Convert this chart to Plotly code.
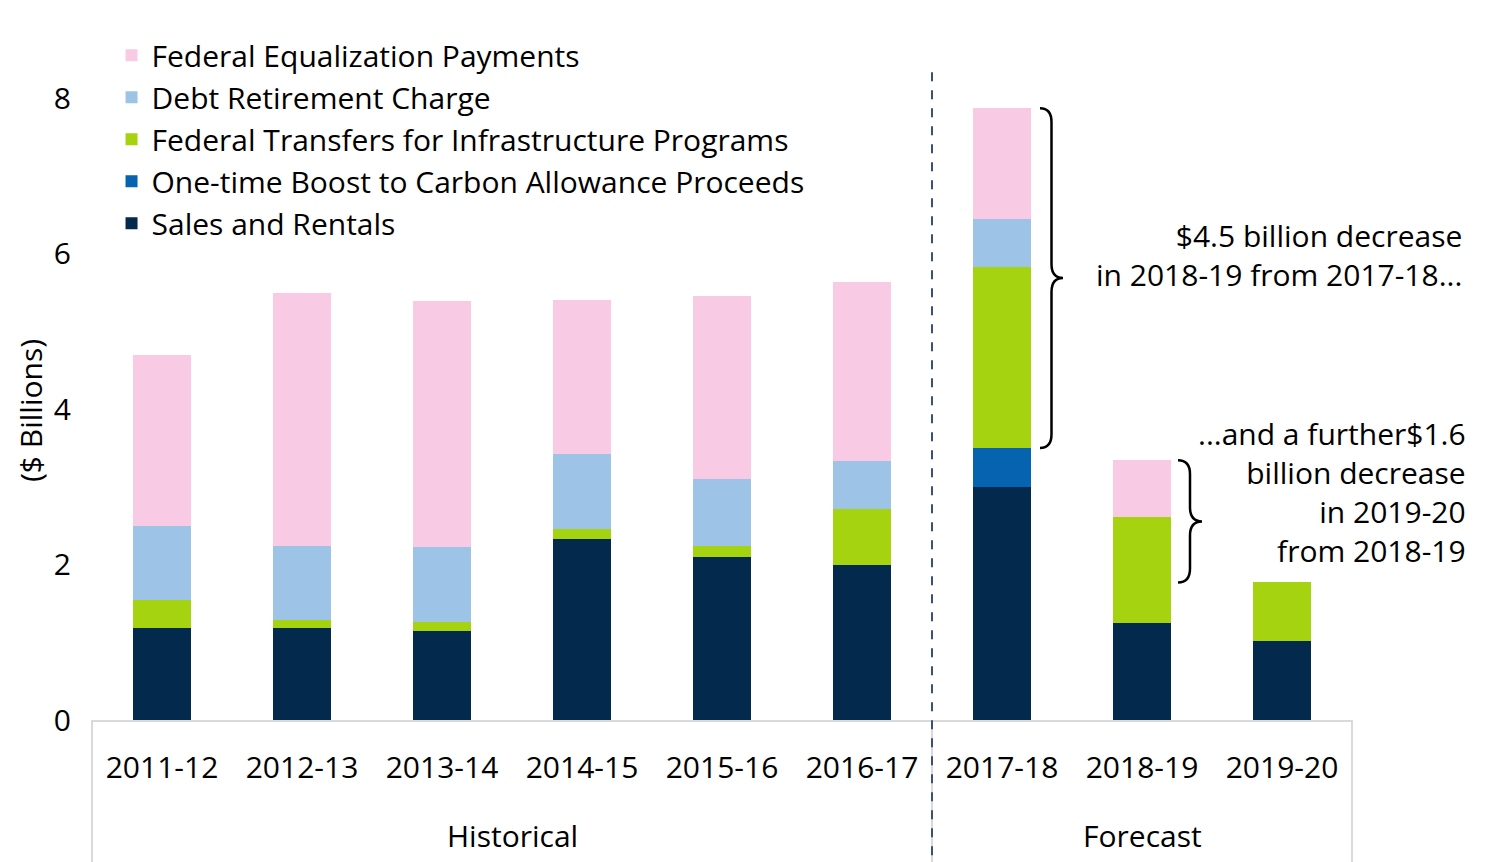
import plotly.graph_objects as go

years = ["2011-12", "2012-13", "2013-14", "2014-15", "2015-16", "2016-17", "2017-18", "2018-19", "2019-20"]
groups = ["Historical", "Forecast"]
group_sizes = [6, 3]

sales = [1.18, 1.18, 1.14, 2.33, 2.10, 1.99, 3.00, 1.25, 1.02]
boost = [None, None, None, None, None, None, 0.50, None, None]
transfers = [0.36, 0.11, 0.12, 0.13, 0.14, 0.72, 2.33, 1.36, 0.75]
debt = [0.96, 0.95, 0.97, 0.96, 0.86, 0.62, 0.61, None, None]
equalization = [2.19, 3.25, 3.16, 1.98, 2.35, 2.30, 1.43, 0.73, None]

series = [
    ("Sales and Rentals", sales, "#03294C"),
    ("One-time Boost to Carbon Allowance Proceeds", boost, "#0563AF"),
    ("Federal Transfers for Infrastructure Programs", transfers, "#A5D30F"),
    ("Debt Retirement Charge", debt, "#9DC3E6"),
    ("Federal Equalization Payments", equalization, "#F8CAE3"),
]

FONT = "Open Sans"
FS = 30
fig = go.Figure()
for i, (name, vals, col) in enumerate(series):
    fig.add_trace(go.Bar(
        x=years, y=vals, name=name, marker_color=col,
        marker_line_width=0, legendgroup=f"g{i}", legendrank=len(series) - i,
    ))

def tot(i):
    return sum(v or 0 for v in (sales[i], boost[i], transfers[i], debt[i], equalization[i]))

W = 1260.0   # plot-area width in px
H = 653.0    # plot-area height in px
ypx = H / 8.4

def brace(px_left, w, y_top, y_bot):
    # right-facing curly brace; x in paper units, y in data units
    xa = px_left / W
    xb = (px_left + w * 0.5) / W
    xc = (px_left + w) / W
    r = 14 / ypx
    ym = (y_top + y_bot) / 2
    return (f"M {xa},{y_top} Q {xb},{y_top} {xb},{y_top - r} L {xb},{ym + r} "
            f"Q {xb},{ym} {xc},{ym} Q {xb},{ym} {xb},{ym - r} L {xb},{y_bot + r} "
            f"Q {xb},{y_bot} {xa},{y_bot}")

b1_top = tot(6)
b1_bot = sales[6] + boost[6]
b2_top = tot(7)
b2_bot = tot(8)

fig.add_shape(type="path", xref="paper", yref="y",
              path=brace(948, 23, b1_top, b1_bot),
              line=dict(color="black", width=2.5))
fig.add_shape(type="path", xref="paper", yref="y",
              path=brace(1086, 24, b2_top, b2_bot),
              line=dict(color="black", width=2.5))

# group dividers below the axis
n = len(years)
edges = [0]
for s in group_sizes:
    edges.append(edges[-1] + s)
for e in edges:
    fig.add_shape(type="line", xref="paper", yref="paper", x0=e / n, x1=e / n,
                  y0=-0.25, y1=0, line=dict(color="#D9D9D9", width=2))
# group labels
for gi, g in enumerate(groups):
    cx = (edges[gi] + edges[gi + 1]) / 2 / n
    fig.add_annotation(xref="paper", yref="paper", x=cx, y=-115 / H, text=g,
                       showarrow=False, xanchor="center", yanchor="middle",
                       font=dict(family=FONT, size=FS, color="black"))

# dashed separator between historical and forecast
fig.add_shape(type="line", xref="paper", yref="paper", x0=edges[1] / n, x1=edges[1] / n,
              y0=-0.207, y1=1.0 + 1 / H, line=dict(color="#3A5272", width=2, dash="dash"))

# y-axis title
fig.add_annotation(xref="paper", yref="paper", x=(30 - 92) / W, y=(720 - 411) / H,
                   text="($ Billions)", textangle=-90, showarrow=False,
                   xanchor="center", yanchor="middle",
                   font=dict(family=FONT, size=FS, color="black"))

fig.add_annotation(xref="paper", yref="y", x=(1464 - 92) / W, y=(b1_top + b1_bot) / 2 + 0.3,
                   text="$4.5 billion decrease<br>in 2018-19 from 2017-18...",
                   showarrow=False, xanchor="right", yanchor="middle", align="right",
                   font=dict(family=FONT, size=FS, color="black"))
fig.add_annotation(xref="paper", yref="y", x=(1468 - 92) / W, y=(b2_top + b2_bot) / 2 + 0.38,
                   text="...and a further$1.6<br>billion decrease<br>in 2019-20<br>from 2018-19",
                   showarrow=False, xanchor="right", yanchor="middle", align="right",
                   font=dict(family=FONT, size=FS, color="black"))

fig.update_layout(
    width=1500, height=862,
    margin=dict(l=84, r=156, t=59, b=150),
    barmode="stack", bargap=0.59,
    plot_bgcolor="white", paper_bgcolor="white",
    font=dict(family=FONT, size=FS, color="black"),
    legend=dict(x=0.0155, y=1.058, xanchor="left", yanchor="top",
                traceorder="grouped", tracegroupgap=0,
                bgcolor="rgba(0,0,0,0)", font=dict(family=FONT, size=FS)),
    showlegend=True,
)
fig.update_xaxes(type="category", showline=True, linecolor="#D9D9D9", linewidth=2, ticks="",
                 showgrid=False, ticklabelstandoff=20, tickfont=dict(family=FONT, size=FS))
fig.update_yaxes(range=[0, 8.4], tickvals=[0, 2, 4, 6, 8], showgrid=False,
                 zeroline=False, showline=False, ticklabelstandoff=20,
                 tickfont=dict(family=FONT, size=FS))

fig.write_html("out.html")
